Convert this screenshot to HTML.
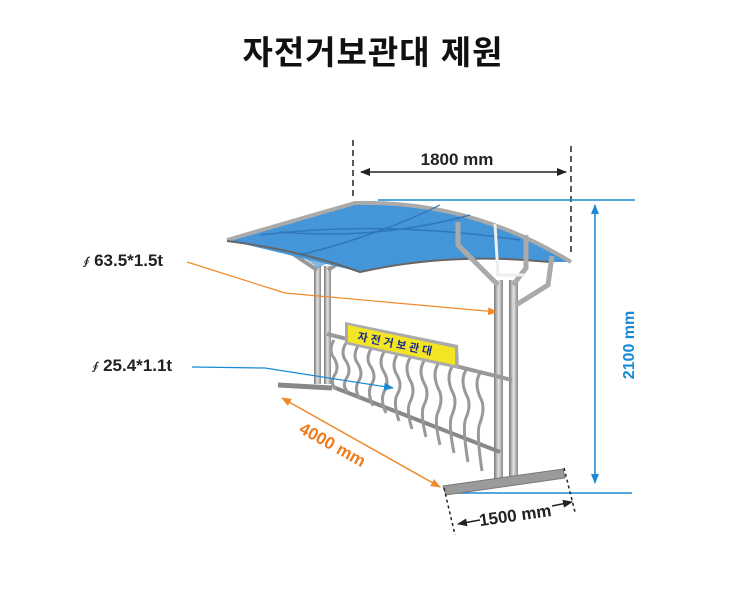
<!DOCTYPE html>
<html><head><meta charset="utf-8"><style>
html,body{margin:0;padding:0;background:#fff;}
svg{display:block;}
text{font-family:"Liberation Sans","Noto Sans CJK KR",sans-serif;}
</style></head><body>
<svg width="730" height="590" viewBox="0 0 730 590" xmlns="http://www.w3.org/2000/svg">
<defs>
<marker id="ak" markerWidth="10" markerHeight="8" refX="9" refY="4" orient="auto-start-reverse" markerUnits="userSpaceOnUse"><path d="M0,0 L10,4 L0,8 z" fill="#222"/></marker>
<marker id="ab" markerWidth="10" markerHeight="8" refX="9" refY="4" orient="auto-start-reverse" markerUnits="userSpaceOnUse"><path d="M0,0 L10,4 L0,8 z" fill="#1a8ad4"/></marker>
<marker id="ao" markerWidth="10" markerHeight="8" refX="9" refY="4" orient="auto-start-reverse" markerUnits="userSpaceOnUse"><path d="M0,0 L10,4 L0,8 z" fill="#ee8a2a"/></marker>
<linearGradient id="st" x1="0" x2="1"><stop offset="0" stop-color="#777"/><stop offset="0.5" stop-color="#e4e4e4"/><stop offset="1" stop-color="#888"/></linearGradient>
</defs>

<text x="373" y="64" font-size="33" font-weight="bold" text-anchor="middle" fill="#111" letter-spacing="1">자전거보관대 제원</text>

<!-- dimension 1800 -->
<line x1="353" y1="140" x2="353" y2="200" stroke="#222" stroke-width="1.5" stroke-dasharray="6,4"/>
<line x1="571" y1="146" x2="571" y2="252" stroke="#222" stroke-width="1.5" stroke-dasharray="6,4"/>
<line x1="361" y1="172" x2="566" y2="172" stroke="#222" stroke-width="1.5" marker-start="url(#ak)" marker-end="url(#ak)"/>
<text x="457" y="165" font-size="17" font-weight="bold" text-anchor="middle" fill="#222">1800 mm</text>

<!-- 2100 -->
<line x1="378" y1="200" x2="635" y2="200" stroke="#1a8ad4" stroke-width="1.5"/>
<line x1="446" y1="493" x2="632" y2="493" stroke="#1a8ad4" stroke-width="1.5"/>
<line x1="595" y1="205" x2="595" y2="483" stroke="#1a8ad4" stroke-width="1.5" marker-start="url(#ab)" marker-end="url(#ab)"/>
<text transform="translate(634,345) rotate(-90)" font-size="16" font-weight="bold" text-anchor="middle" fill="#1a8ad4">2100 mm</text>

<!-- back posts -->
<rect x="314" y="266" width="7" height="118" fill="url(#st)"/>
<rect x="324" y="266" width="7" height="118" fill="url(#st)"/>
<path d="M317,270 L290,252 L290,238 M328,270 L350,256 L350,242" stroke="#999" stroke-width="4" fill="none"/>
<path d="M300,245 L304,258 L318,268 L330,262 L340,250 L340,242 Z" fill="#5a9ad0" opacity="0.7"/>

<!-- roof -->
<path d="M227,240 L355,203 Q470,200 571,262 L548,262 Q450,252 360,272 Z" fill="#4596d8"/>
<path d="M227,240 L355,203 Q470,200 571,262" stroke="#aaa" stroke-width="4" fill="none"/>
<path d="M227,241 Q300,250 360,272 Q450,252 550,262" stroke="#666" stroke-width="2" fill="none"/>
<path d="M260,235 Q380,220 520,240 M280,232 Q380,240 470,215 M300,255 Q380,235 440,205" stroke="#2a6fb0" stroke-width="1.5" fill="none" opacity="0.8"/>

<!-- front posts -->
<rect x="494" y="280" width="9" height="200" fill="url(#st)"/>
<rect x="509" y="280" width="9" height="200" fill="url(#st)"/>
<path d="M498,285 L458,245 L458,222 M513,285 L526,268 L526,235 M516,305 L548,285 L552,256" stroke="#aaa" stroke-width="5" fill="none"/>
<path d="M495,224 L498,275 L525,275" stroke="#eee" stroke-width="3" fill="none"/>

<!-- rack -->
<path d="M278,385 L332,388" stroke="#888" stroke-width="5"/>
<path d="M327,334 L512,380" stroke="#999" stroke-width="4"/>
<path d="M333,387 L500,452" stroke="#888" stroke-width="4"/>
<g stroke="#999" stroke-width="3" fill="none">
<path d="M334,340 q-6,10 0,18 q6,10 0,18 q-4,8 2,13"/>
<path d="M346,343 q-6,10 0,18 q6,10 0,18 q-4,8 2,13"/>
<path d="M358,346 q-6,10 0,18 q6,10 0,18 q-4,8 2,17"/>
<path d="M371,349 q-6,10 0,18 q6,10 0,18 q-4,8 2,21"/>
<path d="M384,352 q-6,10 0,20 q6,10 0,20 q-4,8 2,21"/>
<path d="M397,355 q-6,10 0,20 q6,10 0,20 q-4,8 2,26"/>
<path d="M410,358 q-6,10 0,22 q6,10 0,22 q-4,8 2,27"/>
<path d="M424,361 q-6,10 0,22 q6,10 0,22 q-4,8 2,32"/>
<path d="M438,364 q-6,10 0,24 q6,10 0,24 q-4,8 2,33"/>
<path d="M452,367 q-6,10 0,24 q6,10 0,24 q-4,8 2,38"/>
<path d="M466,370 q-6,10 0,24 q6,10 0,24 q-4,8 2,44"/>
<path d="M480,373 q-6,10 0,24 q6,10 0,26 q-4,8 2,48"/>
</g>
<!-- sign -->
<path d="M345,322 L458,345 L459,369 L345,344 Z" fill="#aaa"/>
<path d="M348,325 L455,348 L455,365 L348,342 Z" fill="#f4e524"/>
<text transform="translate(357,340) rotate(11.5)" font-size="11" font-weight="bold" fill="#1a2a8a" letter-spacing="3">자전거보관대</text>

<!-- right foot -->
<path d="M443,486 L563,469 L565,478 L446,495 Z" fill="#9a9a9a" stroke="#777"/>

<!-- label lines -->
<text x="80" y="266" font-size="17" font-weight="bold" fill="#222"><tspan font-size="11" font-style="italic">∮ </tspan>63.5*1.5t</text>
<polyline points="187,262 285,293 497,312" stroke="#ee8a2a" stroke-width="1.2" fill="none" marker-end="url(#ao)"/>
<text x="89" y="371" font-size="17" font-weight="bold" fill="#222"><tspan font-size="11" font-style="italic">∮ </tspan>25.4*1.1t</text>
<polyline points="192,367 265,368 393,388" stroke="#1a8ad4" stroke-width="1.2" fill="none" marker-end="url(#ab)"/>

<!-- 4000 -->
<line x1="282" y1="398" x2="440" y2="487" stroke="#ee8a2a" stroke-width="1.5" marker-start="url(#ao)" marker-end="url(#ao)"/>
<text transform="translate(298,432) rotate(29)" font-size="17" font-weight="bold" fill="#ee7a1a">4000 mm</text>

<!-- 1500 -->
<line x1="444" y1="488" x2="455" y2="535" stroke="#222" stroke-width="1.5" stroke-dasharray="3,3"/>
<line x1="564" y1="468" x2="575" y2="512" stroke="#222" stroke-width="1.5" stroke-dasharray="3,3"/>
<line x1="458" y1="524" x2="480" y2="520" stroke="#222" stroke-width="1.5" marker-start="url(#ak)"/>
<line x1="552" y1="506" x2="572" y2="502" stroke="#222" stroke-width="1.5" marker-end="url(#ak)"/>
<text transform="translate(516,521) rotate(-8)" font-size="17" font-weight="bold" text-anchor="middle" fill="#222">1500 mm</text>
</svg>
</body></html>
